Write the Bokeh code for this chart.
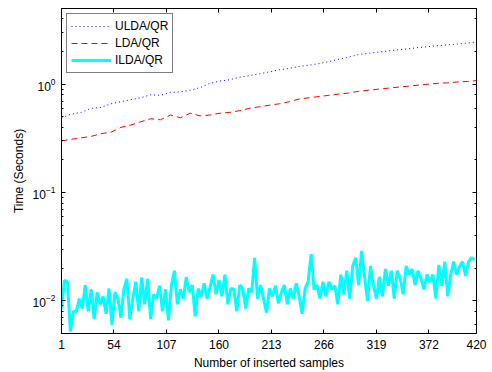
from bokeh.plotting import figure
from bokeh.models import (FixedTicker, LogAxis, LinearAxis, Range1d, Legend, LegendItem,
                          CustomJSTickFormatter)
from bokeh.embed import file_html
from bokeh.resources import INLINE

# Running time (seconds) versus number of inserted samples
x_ticks = [1, 54, 107, 160, 213, 266, 319, 372, 420]

x_coarse = [1, 11, 21, 31, 41, 51, 61, 71, 81, 91, 101, 111, 121, 131, 141, 151, 161,
            171, 181, 191, 201, 211, 221, 231, 241, 251, 261, 271, 281, 291, 301, 311,
            321, 331, 341, 351, 361, 371, 381, 391, 401, 411, 420]

ulda_qr = [0.49, 0.53, 0.55, 0.60, 0.61, 0.66, 0.69, 0.72, 0.75, 0.80, 0.79, 0.84,
           0.85, 0.88, 0.93, 1.02, 1.07, 1.10, 1.16, 1.20, 1.25, 1.30, 1.36, 1.40,
           1.46, 1.50, 1.55, 1.62, 1.70, 1.78, 1.88, 1.93, 1.98, 2.03, 2.08, 2.12,
           2.18, 2.22, 2.27, 2.31, 2.35, 2.40, 2.46]

lda_qr = [0.30, 0.31, 0.32, 0.33, 0.35, 0.36, 0.40, 0.42, 0.45, 0.48, 0.47, 0.52,
          0.49, 0.54, 0.51, 0.52, 0.54, 0.55, 0.57, 0.60, 0.62, 0.64, 0.66, 0.69,
          0.73, 0.75, 0.77, 0.79, 0.81, 0.83, 0.86, 0.88, 0.90, 0.92, 0.94, 0.96,
          0.98, 1.00, 1.02, 1.03, 1.05, 1.06, 1.08]

x_fine = list(range(1, 421, 3))

ilda_qr = [
    0.0085, 0.0155, 0.0150, 0.0052, 0.0080, 0.0080, 0.0105, 0.0085, 0.0140, 0.0080,
    0.0128, 0.0068, 0.0120, 0.0093, 0.0110, 0.0076, 0.0130, 0.0060, 0.0120, 0.0105,
    0.0070, 0.0128, 0.0160, 0.0068, 0.0105, 0.0150, 0.0080, 0.0165,
    0.0093, 0.0160, 0.0068, 0.0115, 0.0105, 0.0138, 0.0080, 0.0128, 0.0066, 0.0140,
    0.0190, 0.0093, 0.0128, 0.0105, 0.0166, 0.0120, 0.0140, 0.0072, 0.0130, 0.0110,
    0.0145, 0.0105, 0.0135, 0.0175, 0.0115, 0.0155,
    0.0110, 0.0175, 0.0093, 0.0130, 0.0128, 0.0080, 0.0140, 0.0130, 0.0085, 0.0130,
    0.0120, 0.0250, 0.0105, 0.0140, 0.0105, 0.0078, 0.0130, 0.0110, 0.0138, 0.0095,
    0.0120, 0.0140, 0.0093, 0.0130, 0.0105, 0.0145,
    0.0110, 0.0076, 0.0130, 0.0150, 0.0270, 0.0128, 0.0140, 0.0105, 0.0150, 0.0110,
    0.0150, 0.0128, 0.0138, 0.0093, 0.0175, 0.0115, 0.0190, 0.0105, 0.0210, 0.0250,
    0.0140, 0.0290, 0.0166, 0.0100, 0.0210, 0.0138, 0.0105,
    0.0166, 0.0110, 0.0197, 0.0138, 0.0190, 0.0105, 0.0190, 0.0160, 0.0115, 0.0210,
    0.0175, 0.0197, 0.0140, 0.0190, 0.0160, 0.0128, 0.0175, 0.0150, 0.0175, 0.0105,
    0.0215, 0.0138, 0.0230, 0.0110, 0.0175, 0.0230, 0.0175, 0.0210, 0.0230, 0.0170,
    0.0230, 0.0250, 0.0240,
]

FONT = "Liberation Sans"

p = figure(width=492, height=372, output_backend="svg", toolbar_location=None,
           y_axis_type="log", x_range=Range1d(1, 420), y_range=Range1d(0.005, 5),
           min_border_left=61, min_border_right=16, min_border_top=8,
           min_border_bottom=37, background_fill_color="white",
           border_fill_color="white")
p.grid.visible = False
p.outline_line_color = "black"
p.outline_line_width = 1

r1 = p.line(x_coarse, ulda_qr, line_color="#0000ff", line_width=1, line_dash="1 3")
r2 = p.line(x_coarse, lda_qr, line_color="#ff0000", line_width=1, line_dash="6 4")
r3 = p.line(x_fine, ilda_qr, line_color="#00ffff", line_width=3)


def style(ax):
    ax.axis_line_color = "black"
    ax.major_tick_in = 4
    ax.major_tick_out = 0
    ax.minor_tick_in = 2
    ax.minor_tick_out = 0
    ax.major_tick_line_color = "black"
    ax.minor_tick_line_color = "black"
    ax.major_label_text_font = FONT
    ax.major_label_text_font_size = "12px"
    ax.major_label_text_color = "black"
    ax.major_label_standoff = 6
    ax.axis_label_text_font = FONT
    ax.axis_label_text_font_size = "12px"
    ax.axis_label_text_font_style = "normal"
    ax.axis_label_text_color = "black"
    ax.axis_label_standoff = 4


blank = CustomJSTickFormatter(code="return ''")

p.xaxis.ticker = FixedTicker(ticks=x_ticks)
p.xaxis.axis_label = "Number of inserted samples"
p.yaxis.axis_label = "Time (Seconds)"
style(p.xaxis[0])
style(p.yaxis[0])
p.xaxis.minor_tick_in = 0

# Mirror ticks on the top and right edges, without labels
top = LinearAxis(ticker=FixedTicker(ticks=x_ticks), formatter=blank)
style(top)
top.minor_tick_in = 0
top.major_label_standoff = 0
p.add_layout(top, "above")
right = LogAxis(formatter=blank)
style(right)
right.major_label_standoff = 0
p.add_layout(right, "right")

legend = Legend(items=[LegendItem(label="ULDA/QR", renderers=[r1]),
                       LegendItem(label="LDA/QR", renderers=[r2]),
                       LegendItem(label="ILDA/QR", renderers=[r3])],
                location="top_left", label_text_font=FONT, label_text_font_size="12px",
                label_text_color="black",
                border_line_color="black", border_line_width=1,
                background_fill_alpha=1.0, spacing=1, padding=4,
                glyph_width=40, glyph_height=16, label_height=16,
                margin=5, label_standoff=4)
p.add_layout(legend)

open("out.html", "w").write(file_html(p, INLINE))
